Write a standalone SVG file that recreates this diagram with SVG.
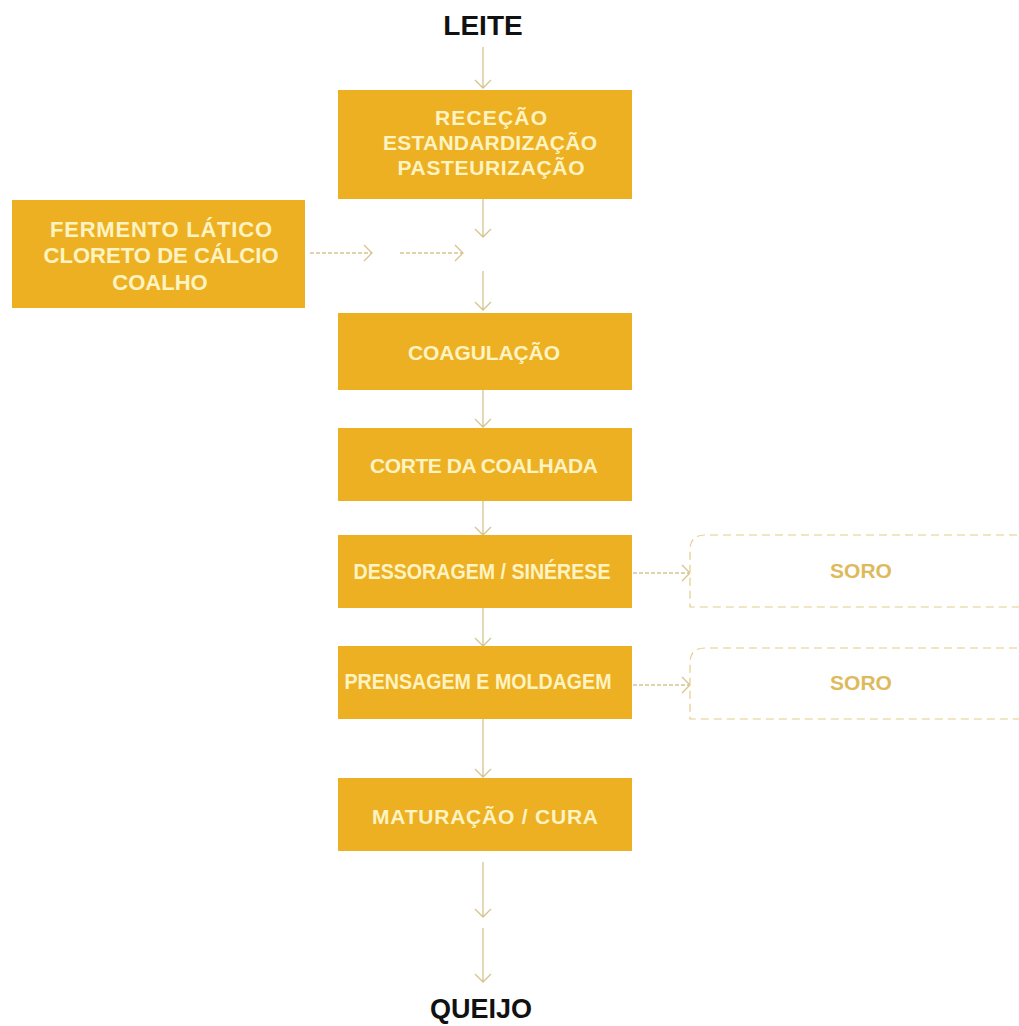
<svg xmlns="http://www.w3.org/2000/svg" width="1019" height="1026" viewBox="0 0 1019 1026">
  <style>
    .step { fill: #ECB022; }
    .step-text { font-family: "Liberation Sans", Arial, sans-serif; font-weight: bold; font-size: 21px; fill: #FFF3C2; text-anchor: middle; }
    .end-text { font-family: "Liberation Sans", Arial, sans-serif; font-weight: bold; font-size: 28px; fill: #111111; text-anchor: middle; }
    .out-box { fill: #FFFFFF; stroke: #E4CB88; stroke-width: 1.2; stroke-dasharray: 8 5; }
    .out-text { font-family: "Liberation Sans", Arial, sans-serif; font-weight: bold; font-size: 21px; fill: #DDBA5C; text-anchor: middle; }
    .flow { stroke: #D6C38E; stroke-width: 1.3; fill: none; }
    .flow-dash { stroke: #D6C38E; stroke-width: 1.3; fill: none; stroke-dasharray: 4 2; }
  </style>
  <rect width="1019" height="1026" fill="#FFFFFF"/>

  <!-- connectors -->
  <g id="connectors">
    <!-- vertical main flow -->
    <path class="flow" d="M483 47 V88 M475 80 L483 88 L491 80"/>
    <path class="flow" d="M483 199 V237 M475 229 L483 237 L491 229"/>
    <path class="flow" d="M483 271 V310 M475 302 L483 310 L491 302"/>
    <path class="flow" d="M483 390 V427 M475 419 L483 427 L491 419"/>
    <path class="flow" d="M483 501 V535 M475 527 L483 535 L491 527"/>
    <path class="flow" d="M483 608 V646 M475 638 L483 646 L491 638"/>
    <path class="flow" d="M483 719 V777 M475 769 L483 777 L491 769"/>
    <path class="flow" d="M483 862 V917 M475 909 L483 917 L491 909"/>
    <path class="flow" d="M483 928 V982 M475 974 L483 982 L491 974"/>
    <!-- ingredient inputs -->
    <path class="flow-dash" d="M310 253 H372"/>
    <path class="flow" d="M364 245 L372 253 L364 261"/>
    <path class="flow-dash" d="M400 253 H463"/>
    <path class="flow" d="M455 245 L463 253 L455 261"/>
    <!-- whey outputs -->
    <path class="flow-dash" d="M633 573 H690"/>
    <path class="flow" d="M682 565 L690 573 L682 581"/>
    <path class="flow-dash" d="M633 685 H690"/>
    <path class="flow" d="M682 677 L690 685 L682 693"/>
  </g>

  <g id="leite">
    <text class="end-text" x="483" y="35">LEITE</text>
  </g>

  <g id="rececao">
    <rect class="step" x="338" y="90" width="294" height="109"/>
    <text class="step-text" x="491" y="125" textLength="112" lengthAdjust="spacing">RECEÇÃO</text>
    <text class="step-text" x="490" y="150" textLength="214" lengthAdjust="spacing">ESTANDARDIZAÇÃO</text>
    <text class="step-text" x="491" y="175" textLength="187" lengthAdjust="spacing">PASTEURIZAÇÃO</text>
  </g>

  <g id="ingredientes">
    <rect class="step" x="12" y="200" width="293" height="108"/>
    <text class="step-text" style="font-size:22px" x="161" y="237" textLength="222" lengthAdjust="spacing">FERMENTO LÁTICO</text>
    <text class="step-text" style="font-size:22px" x="161" y="263" textLength="235" lengthAdjust="spacing">CLORETO DE CÁLCIO</text>
    <text class="step-text" style="font-size:22px" x="160" y="290">COALHO</text>
  </g>

  <g id="coagulacao">
    <rect class="step" x="338" y="313" width="294" height="77"/>
    <text class="step-text" x="484" y="360" textLength="152" lengthAdjust="spacing">COAGULAÇÃO</text>
  </g>

  <g id="corte">
    <rect class="step" x="338" y="428" width="294" height="73"/>
    <text class="step-text" x="484" y="473" textLength="228" lengthAdjust="spacing">CORTE DA COALHADA</text>
  </g>

  <g id="dessoragem">
    <rect class="step" x="338" y="535" width="294" height="73"/>
    <text class="step-text" style="font-size:22px" x="482" y="579" textLength="257" lengthAdjust="spacingAndGlyphs">DESSORAGEM / SINÉRESE</text>
  </g>

  <g id="soro-1">
    <path class="out-box" d="M1030 535 H705 Q690 535 690 550 V607 H1030"/>
    <text class="out-text" x="861" y="578">SORO</text>
  </g>

  <g id="prensagem">
    <rect class="step" x="338" y="646" width="294" height="73"/>
    <text class="step-text" style="font-size:22px" x="478" y="689" textLength="267" lengthAdjust="spacingAndGlyphs">PRENSAGEM E MOLDAGEM</text>
  </g>

  <g id="soro-2">
    <path class="out-box" d="M1030 648 H705 Q690 648 690 663 V719 H1030"/>
    <text class="out-text" x="861" y="690">SORO</text>
  </g>

  <g id="maturacao">
    <rect class="step" x="338" y="778" width="294" height="73"/>
    <text class="step-text" x="485" y="824" textLength="226" lengthAdjust="spacing">MATURAÇÃO / CURA</text>
  </g>

  <g id="queijo">
    <text class="end-text" style="font-size:27px" x="481" y="1018">QUEIJO</text>
  </g>
</svg>
